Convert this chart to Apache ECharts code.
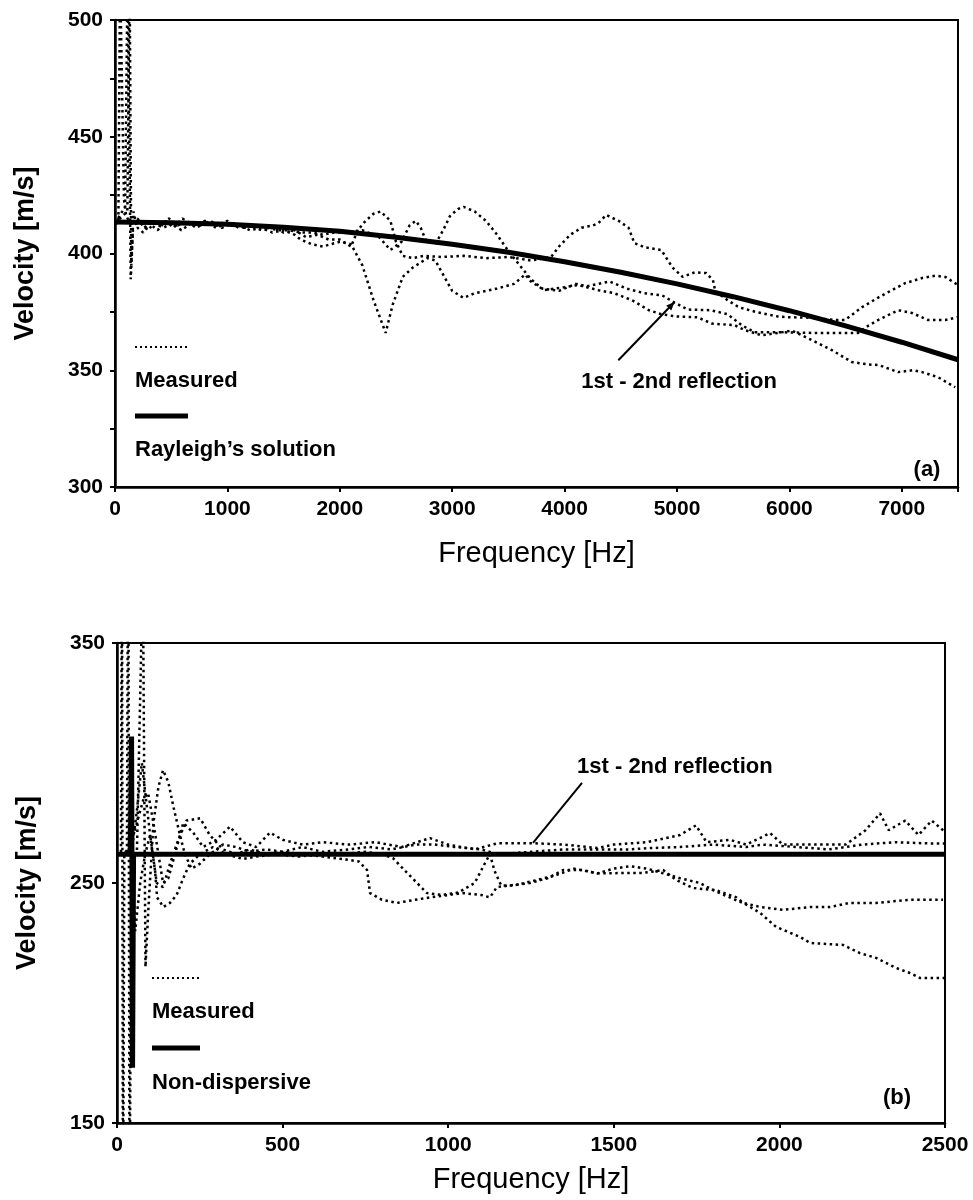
<!DOCTYPE html>
<html><head><meta charset="utf-8">
<script src="https://cdn.jsdelivr.net/npm/echarts@6/dist/echarts.min.js"></script>
<style>html,body{margin:0;padding:0;background:#fff}#c{width:973px;height:1200px}</style>
</head><body><div id="c"></div>
<script>
// ---------- Panel (a) data: frequency [Hz], velocity [m/s] ----------
const rayleighA = [[0,413.5],[500,413.2],[1000,412.5],[1500,411.2],[2000,409.5],[2500,407],[3000,404],[3500,400.5],[4000,396.5],[4500,392],[5000,387],[5500,381.5],[6000,375.5],[6500,369],[7000,362],[7500,354.5]];
const measuredA1 = [[0,413],[30,413],[45,520],[80,423],[100,416],[150,412],[200,415],[260,411],[320,414],[400,412],[480,415],[560,412],[640,414],[720,411],[800,413],[900,412],[1000,414],[1100,411],[1200,412],[1300,410],[1400,411],[1500,409],[1600,410],[1700,407],[1800,408],[1900,406],[2000,406],[2100,403],[2160,410],[2230,414],[2300,417],[2364,418],[2450,414],[2500,405],[2560,399],[2650,398],[2750,399],[2900,398.5],[3100,399],[3300,398],[3500,398.5],[3700,397],[3880,398.5],[3950,403],[4050,408],[4150,411],[4250,412],[4300,413],[4370,416.5],[4480,414],[4570,411],[4620,404.5],[4710,402.7],[4860,401.5],[4960,394],[5050,390],[5160,392],[5260,391.6],[5320,388.6],[5340,384],[5450,380],[5550,377],[5700,375],[5900,373],[6000,372.7],[6200,372.5],[6400,371.5],[6494,371.5],[6646,377],[6797,381.3],[6900,384],[7030,387.3],[7181,389.5],[7300,390.5],[7390,389.9],[7500,386.5]];
const measuredA2 = [[0,413],[90,420],[112,520],[125,520],[140,389],[160,410],[200,411],[250,409],[300,413],[380,410],[450,414],[520,411],[600,415],[700,412],[800,414],[900,411],[1000,413],[1100,412],[1200,410],[1300,411],[1400,409],[1500,410],[1600,408],[1650,406],[1750,404],[1850,403],[1920,404],[2000,405],[2100,404],[2200,395],[2300,380],[2408,366],[2470,378],[2560,390],[2650,394],[2780,398],[2850,397],[2930,390],[3000,384],[3100,381],[3200,383],[3300,384],[3400,385],[3550,387],[3650,391],[3700,388],[3820,384.3],[4000,385.6],[4120,386.5],[4300,384.3],[4440,383],[4600,380],[4750,375.7],[4860,374],[5000,373],[5183,372.7],[5308,370],[5513,369.3],[5602,367.2],[5754,365],[5900,366],[6021,367],[6200,362.9],[6378,358.6],[6557,353.5],[6700,352.5],[6797,352.2],[6967,349.2],[7100,350],[7181,349.2],[7324,347],[7475,342.7]];
const measuredA3 = [[0,413],[110,418],[130,520],[145,395],[165,418],[190,412],[230,414],[290,410],[350,413],[430,411],[510,413],[590,410],[680,413],[760,412],[850,414],[950,411],[1050,413],[1150,411],[1250,412],[1350,411],[1450,410],[1550,410],[1650,409],[1750,409],[1850,408],[1950,409],[2050,409],[2200,410],[2350,407],[2450,401.5],[2550,405],[2620,412],[2676,414],[2720,411],[2765,405.7],[2850,404],[2920,410],[2980,416],[3050,419],[3100,420],[3200,418],[3300,414],[3400,408],[3500,401],[3600,395],[3700,389],[3800,385],[3950,384],[4100,387],[4200,386],[4400,388],[4550,385],[4710,383],[4870,382],[4978,379],[5094,376],[5300,375.7],[5450,374],[5575,369.3],[5691,366.3],[5896,366.3],[6200,366],[6378,366],[6494,366],[6610,366],[6700,369],[6789,371.5],[6967,375.7],[7092,374.5],[7235,371.5],[7386,371.5],[7493,372.7]];

// ---------- Panel (b) data ----------
const nonDispB = [[0,262],[40,262],[44,311],[47,173],[50,262],[2500,262]];
const measuredB1 = [[0,262],[12,262],[15,400],[18,100],[22,262],[40,266],[60,275],[80,285],[94,287.5],[110,275],[125,262],[139,250],[155,252],[175,262],[200,275],[230,271],[260,265],[300,268],[341,273.5],[380,267],[420,265],[462,271],[500,268],[560,266],[620,267],[700,266],[780,267],[860,265],[945,268.7],[1000,266],[1080,264],[1150,266.6],[1250,266.6],[1350,266],[1450,264.6],[1500,266],[1600,267],[1700,270],[1748,274],[1780,267],[1850,268],[1900,266],[1972,270.8],[2010,266],[2100,266],[2200,266],[2260,272],[2304,279],[2330,272],[2380,276],[2420,270],[2460,276],[2500,271.3]];
const measuredB2 = [[0,262],[30,262],[34,420],[38,100],[43,262],[60,280],[75,300],[100,270],[120,250],[139,248.3],[160,258],[185,268],[210,276],[251,277],[280,270],[320,264],[360,262],[400,264],[450,262],[500,263],[560,265],[620,263],[700,264],[760,265],[830,264],[900,266],[960,266],[1020,265],[1100,264],[1150,262],[1250,263],[1350,264],[1450,264],[1550,264],[1600,264.5],[1700,265],[1800,266],[1900,265],[1950,266],[2050,265],[2150,264],[2250,266],[2350,267],[2450,266.5],[2500,266.5]];
const measuredB3 = [[0,262],[60,262],[78,380],[86,215],[95,240],[110,275],[125,290],[139,297],[155,292],[170,282],[190,270],[205,262],[225,256],[250,258],[280,262],[320,266],[360,265],[400,263],[450,264],[500,263],[560,262],[620,261],[680,260],[730,259],[755,255.4],[764,245.8],[800,243],[845,241.7],[900,243],[945,244],[1000,245],[1045,245.8],[1100,245],[1126,244],[1147,248.3],[1247,250],[1300,252],[1347,255.4],[1407,255.4],[1450,254],[1549,254.2],[1588,254.2],[1649,255.4],[1688,251.3],[1739,247.9],[1809,247],[1870,244],[1891,241.7],[1942,240],[2011,238.8],[2093,240],[2153,240],[2213,241.7],[2292,241.7],[2394,243],[2494,243]];
const measuredB4 = [[0,262],[45,262],[55,230],[70,250],[85,262],[100,270],[115,255],[121,244],[140,240],[160,241.7],[180,245],[200,252],[220,258],[250,262],[290,265],[330,262],[380,260],[420,261],[480,262],[550,261],[620,262],[680,262],[750,263],[800,262],[833,260.4],[876,254.2],[906,250],[936,245.8],[980,245],[1030,246],[1080,250],[1110,258],[1126,262],[1140,255],[1160,249],[1200,249],[1260,251],[1320,253],[1380,256],[1450,254],[1500,256],[1550,257],[1600,256],[1650,254],[1700,252],[1760,250],[1800,247],[1850,244],[1900,241],[1942,237.5],[1990,231.7],[2063,227.5],[2093,225],[2192,224.2],[2243,220.8],[2292,218.8],[2352,214.6],[2394,212.5],[2425,210.4],[2500,210.4]];

// annotation anchors (data space)
const annotA = {text:[4148,344.9], from:[4478,354.3], to:[4978,379.2]};
const annotB = {text:[1389,298.3], from:[1404,291.7], to:[1256,266.7]};

const FONT = '"Liberation Sans", Arial, sans-serif';
const chart = echarts.init(document.getElementById('c'), null, {renderer:'canvas'});

function xAxis(idx, max, interval, nameGap){
  return {gridIndex:idx, type:'value', min:0, max:max, interval:interval,
    name:'Frequency [Hz]', nameLocation:'middle', nameGap:nameGap,
    nameTextStyle:{fontFamily:FONT, fontSize:29, color:'#000'},
    axisLine:{show:true, onZero:false, lineStyle:{color:'#000', width:2.5}},
    axisTick:{show:true, inside:false, length:5, lineStyle:{color:'#000', width:2}},
    axisLabel:{color:'#000', fontFamily:FONT, fontWeight:'bold', fontSize:21, margin:12,
      formatter:v => (v % interval === 0 ? String(v) : '')},
    splitLine:{show:false}};
}
function yAxis(idx, min, max, interval, labelStep){
  return {gridIndex:idx, type:'value', min:min, max:max, interval:interval,
    name:'Velocity [m/s]', nameLocation:'middle', nameGap:76,
    nameTextStyle:{fontFamily:FONT, fontSize:27, fontWeight:'bold', color:'#000'},
    axisLine:{show:true, onZero:false, lineStyle:{color:'#000', width:2.5}},
    axisTick:{show:true, inside:false, length:5, lineStyle:{color:'#000', width:2}},
    axisLabel:{color:'#000', fontFamily:FONT, fontWeight:'bold', fontSize:21, margin:12,
      formatter:v => ((v - min) % labelStep === 0 ? String(v) : '')},
    splitLine:{show:false}};
}
const dotted = {color:'#000', width:2.5, type:[2.5,3.5]};
function mSeries(data, xi){
  return {type:'line', xAxisIndex:xi, yAxisIndex:xi, data:data, showSymbol:false, symbol:'none',
    lineStyle:dotted, clip:true, silent:true, z:2};
}
function sSeries(data, xi){
  return {type:'line', xAxisIndex:xi, yAxisIndex:xi, data:data, showSymbol:false, symbol:'none',
    lineStyle:{color:'#000', width:5}, clip:true, silent:true, z:3};
}

chart.setOption({
  animation:false,
  backgroundColor:'#fff',
  grid:[
    {left:115, top:20, width:843, height:467, show:true, borderColor:'#000', borderWidth:2},
    {left:117, top:643, width:828, height:480, show:true, borderColor:'#000', borderWidth:2}
  ],
  xAxis:[xAxis(0,7500,1000,52), xAxis(1,2500,500,42)],
  yAxis:[yAxis(0,300,500,25,50), yAxis(1,150,350,100,100)],
  series:[
    mSeries(measuredA1,0), mSeries(measuredA2,0), mSeries(measuredA3,0), sSeries(rayleighA,0),
    mSeries(measuredB1,1), mSeries(measuredB2,1), mSeries(measuredB3,1), mSeries(measuredB4,1), sSeries(nonDispB,1)
  ]
});

function px(gi, p){ return chart.convertToPixel({gridIndex:gi}, p); }
const lblStyle = {fontFamily:FONT, fontWeight:'bold', fontSize:22, fill:'#000'};
const g = [];
function legend(x0, x1, yDot, yM, ySolid, yName, name){
  g.push({type:'line', shape:{x1:x0,y1:yDot,x2:x1,y2:yDot}, style:{stroke:'#000', lineWidth:2, lineDash:[2,3]}});
  g.push({type:'text', x:x0, y:yM, style:Object.assign({text:'Measured', verticalAlign:'middle'}, lblStyle)});
  g.push({type:'line', shape:{x1:x0,y1:ySolid,x2:x1,y2:ySolid}, style:{stroke:'#000', lineWidth:5}});
  g.push({type:'text', x:x0, y:yName, style:Object.assign({text:name, verticalAlign:'middle'}, lblStyle)});
}
legend(135, 188, 347, 381, 416, 450, 'Rayleigh\u2019s solution');
legend(152, 200, 978, 1012, 1048, 1083, 'Non-dispersive');

function annot(gi, a, arrow){
  const t = px(gi, a.text), f = px(gi, a.from), e = px(gi, a.to);
  g.push({type:'text', x:t[0], y:t[1], style:Object.assign({text:'1st - 2nd reflection', verticalAlign:'middle'}, lblStyle)});
  g.push({type:'line', shape:{x1:f[0],y1:f[1],x2:e[0],y2:e[1]}, style:{stroke:'#000', lineWidth:2}});
  if (arrow){
    const ang = Math.atan2(e[1]-f[1], e[0]-f[0]), L = 9, W = 0.4;
    g.push({type:'polygon', shape:{points:[[e[0],e[1]],
      [e[0]-L*Math.cos(ang-W), e[1]-L*Math.sin(ang-W)],
      [e[0]-L*Math.cos(ang+W), e[1]-L*Math.sin(ang+W)]]}, style:{fill:'#000'}});
  }
}
annot(0, annotA, true);
annot(1, annotB, false);
g.push({type:'text', x:927, y:470, style:Object.assign({text:'(a)', align:'center', verticalAlign:'middle'}, lblStyle)});
g.push({type:'text', x:897, y:1098, style:Object.assign({text:'(b)', align:'center', verticalAlign:'middle'}, lblStyle)});
chart.setOption({graphic:g});
</script>
</body></html>
